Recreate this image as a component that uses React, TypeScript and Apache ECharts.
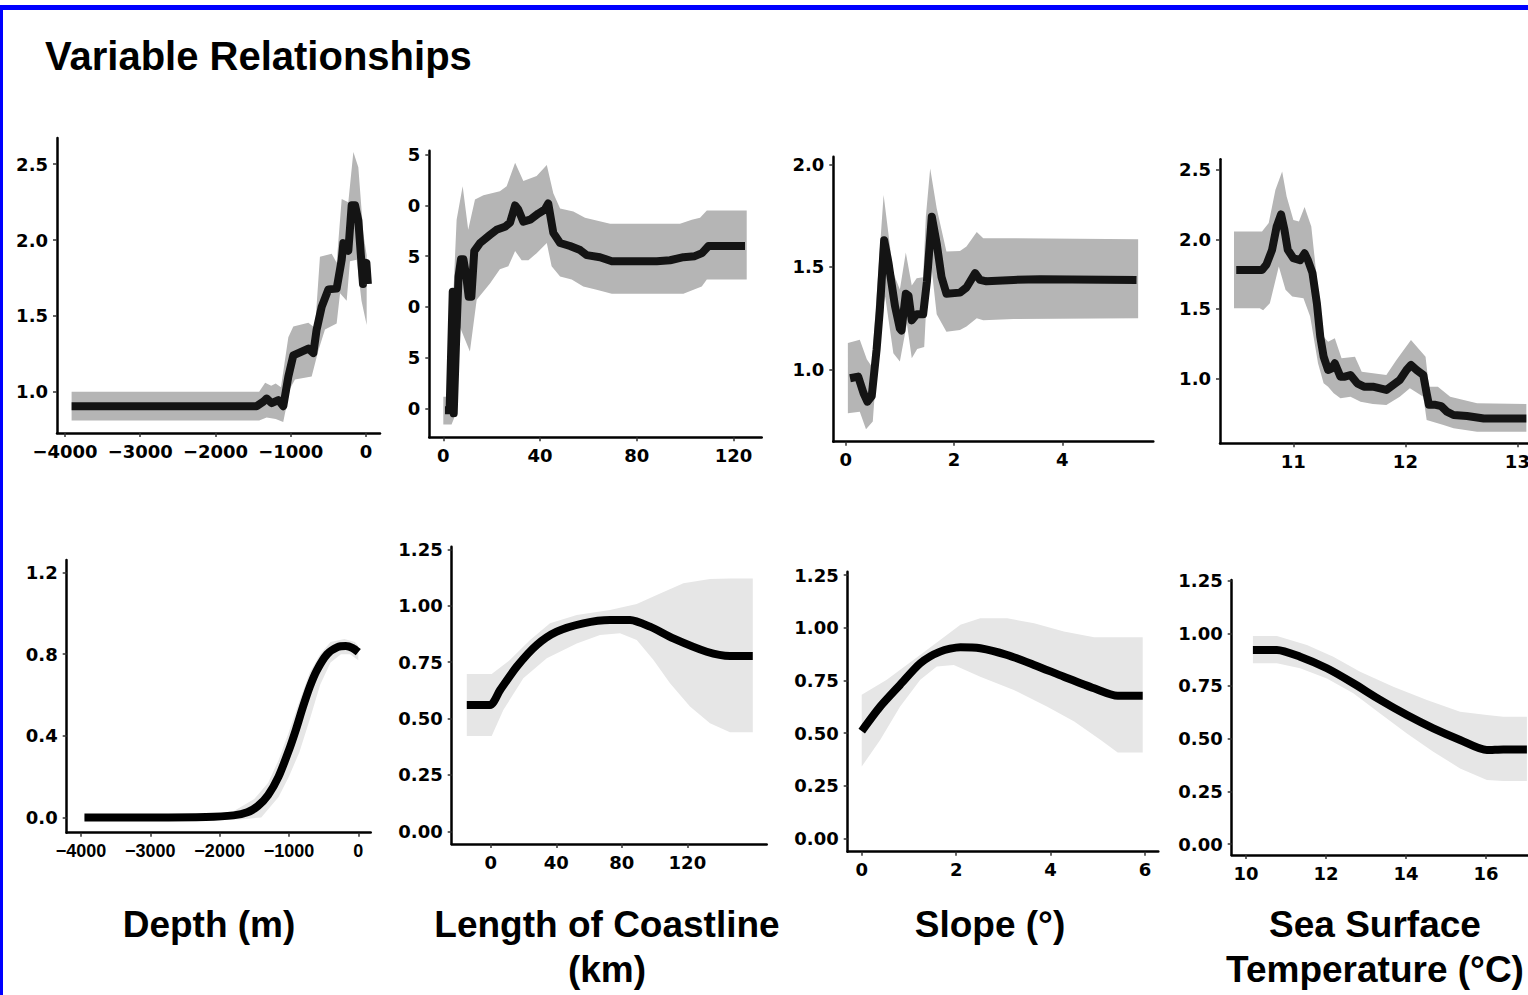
import React, { useEffect, useRef } from "react";
import * as echarts from "echarts";

type P = [number, number];

// ---------- Panel 1: Depth (top row) ----------
const depthTopLine: P[] = [[-3912,0.905],[-1453,0.905],[-1364,0.935],[-1320,0.955],[-1254,0.925],[-1165,0.945],[-1099,0.905],[-1032,1.10],[-966,1.24],[-877,1.26],[-766,1.285],[-700,1.255],[-656,1.41],[-589,1.56],[-500,1.675],[-390,1.68],[-323,1.87],[-301,1.98],[-235,1.93],[-190,2.23],[-146,2.23],[-102,2.13],[-40,1.71],[5,1.85],[25,1.71]];
const depthTopUpper: P[] = [[-3912,1.0],[-1420,1.0],[-1340,1.06],[-1260,1.04],[-1200,1.055],[-1130,1.03],[-1032,1.36],[-966,1.43],[-766,1.455],[-677,1.42],[-612,1.89],[-456,1.91],[-390,1.85],[-323,2.27],[-235,2.25],[-168,2.58],[-102,2.48],[-35,2.04],[9,1.9]];
const depthTopLower: P[] = [[-3912,0.81],[-1420,0.81],[-1320,0.83],[-1200,0.82],[-1100,0.80],[-1010,1.02],[-944,1.08],[-722,1.10],[-634,1.27],[-545,1.41],[-390,1.45],[-345,1.65],[-257,1.60],[-213,1.86],[-124,1.87],[-60,1.6],[9,1.44]];
const depthTopXTicks = [-4000, -3000, -2000, -1000, 0];
const depthTopYTicks = [1.0, 1.5, 2.0, 2.5];

// ---------- Panel 2: Length of Coastline (top row) ----------
const coastTopLine: P[] = [[0.7,-0.02],[2.6,-0.02],[3.9,1.15],[4.3,-0.05],[5.2,0.6],[6.3,1.3],[7.3,1.47],[8.3,1.47],[9.5,1.3],[10.5,1.1],[11.6,1.1],[12.8,1.55],[15.2,1.63],[19.3,1.71],[22,1.76],[25.5,1.79],[27.6,1.83],[29.7,2.0],[31,1.96],[33.1,1.84],[35.9,1.86],[39.3,1.92],[42,1.96],[43.4,2.02],[45.5,1.73],[48.3,1.63],[52.4,1.6],[56.6,1.56],[59.3,1.51],[64.8,1.49],[69.7,1.45],[74.5,1.45],[88.3,1.45],[93.8,1.46],[99.3,1.49],[104,1.5],[107,1.53],[109.7,1.6],[124.8,1.6]];
const coastTopUpper: P[] = [[0,0.115],[3.4,0.115],[4.1,1.1],[5.5,1.86],[8,2.19],[10.3,1.76],[13.1,2.06],[16.6,2.1],[23.4,2.14],[26.2,2.19],[29.7,2.42],[33.1,2.24],[38.6,2.29],[42.8,2.4],[45.5,2.12],[48.3,1.97],[53.8,1.94],[58.6,1.88],[69,1.82],[97.9,1.82],[102.8,1.86],[106.2,1.88],[109,1.95],[125.5,1.95]];
const coastTopLower: P[] = [[0,-0.16],[3.4,-0.16],[4.4,-0.1],[5.2,0.38],[6.9,0.8],[11,0.56],[13.8,1.07],[19.3,1.23],[23.4,1.37],[26.9,1.4],[29.7,1.55],[32.4,1.46],[35.2,1.46],[38.6,1.53],[42.8,1.63],[44.8,1.4],[48.3,1.3],[53.1,1.27],[57.9,1.2],[63.4,1.17],[69.7,1.13],[99.3,1.13],[106.9,1.2],[109,1.27],[125.5,1.27]];
const coastTopXTicks = [0, 40, 80, 120];
const coastTopYTicks = [0, 0.5, 1.0, 1.5, 2.0, 2.5];
const coastTopYLabels = ["0", "5", "0", "5", "0", "5"];

// ---------- Panel 3: Slope (top row) ----------
const slopeTopLine: P[] = [[0.08,0.958],[0.23,0.966],[0.33,0.885],[0.4,0.844],[0.48,0.87],[0.57,1.096],[0.63,1.29],[0.71,1.63],[0.79,1.52],[0.91,1.31],[1.0,1.2],[1.03,1.19],[1.11,1.37],[1.16,1.36],[1.22,1.24],[1.31,1.27],[1.43,1.27],[1.5,1.43],[1.59,1.745],[1.68,1.615],[1.77,1.45],[1.86,1.37],[2.11,1.375],[2.23,1.40],[2.39,1.47],[2.48,1.437],[2.6,1.43],[3.1,1.437],[3.59,1.44],[5.37,1.437]];
const slopeTopUpper: P[] = [[0.04,1.13],[0.26,1.145],[0.39,1.05],[0.48,1.015],[0.70,1.85],[0.88,1.47],[1.0,1.39],[1.11,1.57],[1.22,1.41],[1.31,1.445],[1.43,1.45],[1.48,1.745],[1.56,1.98],[1.68,1.786],[1.86,1.575],[2.11,1.578],[2.23,1.6],[2.42,1.67],[2.54,1.64],[3.1,1.64],[5.4,1.635]];
const slopeTopLower: P[] = [[0.04,0.787],[0.26,0.795],[0.375,0.71],[0.5,0.747],[0.63,1.226],[0.73,1.355],[0.88,1.08],[1.0,1.04],[1.13,1.225],[1.22,1.055],[1.32,1.10],[1.45,1.11],[1.53,1.53],[1.59,1.485],[1.68,1.27],[1.86,1.185],[2.11,1.193],[2.23,1.21],[2.42,1.25],[2.54,1.24],[3.1,1.247],[5.4,1.25]];
const slopeTopXTicks = [0, 2, 4];
const slopeTopYTicks = [1.0, 1.5, 2.0];

// ---------- Panel 4: Sea Surface Temperature (top row) ----------
const sstTopLine: P[] = [[10.49,1.78],[10.72,1.78],[10.76,1.82],[10.81,1.925],[10.85,2.09],[10.89,2.18],[10.92,2.07],[10.95,1.925],[11.0,1.865],[11.06,1.85],[11.1,1.9],[11.13,1.85],[11.17,1.76],[11.21,1.54],[11.24,1.30],[11.27,1.156],[11.31,1.06],[11.34,1.07],[11.37,1.108],[11.42,1.012],[11.46,1.012],[11.51,1.024],[11.57,0.964],[11.63,0.94],[11.71,0.94],[11.83,0.916],[11.89,0.952],[11.95,0.988],[12.01,1.06],[12.05,1.096],[12.1,1.06],[12.16,1.024],[12.19,0.89],[12.21,0.81],[12.26,0.81],[12.32,0.80],[12.37,0.76],[12.43,0.736],[12.55,0.728],[12.7,0.71],[13.08,0.71]];
const sstTopUpper: P[] = [[10.47,2.058],[10.72,2.058],[10.78,2.118],[10.84,2.358],[10.9,2.49],[10.94,2.31],[11.0,2.14],[11.05,2.13],[11.1,2.233],[11.16,2.094],[11.22,1.637],[11.27,1.30],[11.31,1.264],[11.37,1.288],[11.43,1.144],[11.55,1.156],[11.61,1.048],[11.83,1.024],[11.92,1.132],[12.05,1.276],[12.18,1.156],[12.21,0.94],[12.29,0.94],[12.4,0.868],[12.64,0.82],[13.08,0.815]];
const sstTopLower: P[] = [[10.47,1.505],[10.70,1.505],[10.73,1.49],[10.79,1.54],[10.87,1.805],[10.93,1.637],[10.99,1.589],[11.09,1.577],[11.15,1.445],[11.22,1.108],[11.27,0.964],[11.31,0.94],[11.36,0.892],[11.42,0.856],[11.51,0.868],[11.6,0.832],[11.71,0.815],[11.83,0.808],[11.95,0.868],[12.04,0.928],[12.16,0.868],[12.19,0.7],[12.34,0.663],[12.43,0.64],[12.64,0.615],[13.08,0.615]];
const sstTopXTicks = [11, 12, 13];
const sstTopYTicks = [1.0, 1.5, 2.0, 2.5];

// ---------- Panel 5: Depth (bottom row) ----------
const depthBotLine: P[] = [[-3950,0],[-3000,0],[-2200,0.002],[-1800,0.01],[-1600,0.025],[-1450,0.055],[-1300,0.11],[-1150,0.2],[-1000,0.33],[-900,0.43],[-800,0.54],[-700,0.64],[-600,0.72],[-450,0.8],[-300,0.835],[-180,0.84],[-80,0.83],[0,0.81]];
const depthBotUpper: P[] = [[-3950,0.01],[-2200,0.01],[-1800,0.03],[-1500,0.09],[-1300,0.17],[-1150,0.28],[-1000,0.42],[-850,0.57],[-700,0.71],[-550,0.8],[-400,0.86],[-200,0.875],[-50,0.86],[0,0.84]];
const depthBotLower: P[] = [[-3950,-0.01],[-2200,-0.01],[-1700,-0.01],[-1400,0.0],[-1150,0.1],[-1000,0.2],[-850,0.32],[-700,0.48],[-550,0.65],[-400,0.76],[-250,0.8],[-120,0.8],[0,0.77]];
const depthBotXTicks = [-4000, -3000, -2000, -1000, 0];
const depthBotYTicks = [0.0, 0.4, 0.8, 1.2];

// ---------- Panel 6: Length of Coastline (bottom row) ----------
const coastBotLine: P[] = [[-14.6,0.56],[-0.4,0.56],[5.7,0.626],[15.9,0.73],[28.1,0.826],[40.3,0.885],[56.5,0.922],[72.8,0.937],[85,0.937],[97.2,0.907],[111.4,0.855],[131.8,0.796],[146,0.777],[159.9,0.777]];
const coastBotUpper: P[] = [[-14.6,0.697],[0.6,0.697],[11.8,0.76],[24,0.848],[36.2,0.922],[52.5,0.959],[72.8,0.981],[89.1,1.008],[101.3,1.048],[117.6,1.099],[133.8,1.118],[146,1.121],[159.9,1.121]];
const coastBotLower: P[] = [[-14.6,0.423],[0.6,0.423],[7.7,0.538],[19.9,0.678],[34.2,0.767],[52.5,0.833],[66.7,0.87],[78.9,0.878],[89.1,0.848],[99.2,0.76],[109.4,0.656],[121.6,0.553],[133.8,0.479],[146,0.439],[159.9,0.439]];
const coastBotXTicks = [0, 40, 80, 120];
const coastBotYTicks = [0, 0.25, 0.5, 0.75, 1.0, 1.25];

// ---------- Panel 7: Slope (bottom row) ----------
const slopeBotLine: P[] = [[0,0.51],[0.39,0.626],[0.81,0.729],[1.24,0.832],[1.66,0.887],[2.09,0.908],[2.51,0.903],[3.08,0.871],[3.65,0.824],[4.28,0.768],[4.92,0.713],[5.42,0.678],[5.95,0.678]];
const slopeBotUpper: P[] = [[0,0.682],[0.53,0.753],[1.1,0.848],[1.66,0.942],[2.09,1.014],[2.51,1.045],[3.08,1.045],[3.65,1.021],[4.28,0.982],[4.92,0.955],[5.95,0.955]];
const slopeBotLower: P[] = [[0,0.342],[0.39,0.468],[0.81,0.626],[1.24,0.753],[1.59,0.816],[1.95,0.824],[2.51,0.768],[3.22,0.705],[3.93,0.626],[4.5,0.555],[5.06,0.468],[5.42,0.408],[5.95,0.408]];
const slopeBotXTicks = [0, 2, 4, 6];
const slopeBotYTicks = [0, 0.25, 0.5, 0.75, 1.0, 1.25];

// ---------- Panel 8: Sea Surface Temperature (bottom row) ----------
const sstBotLine: P[] = [[10.17,0.921],[10.77,0.921],[11.35,0.889],[12.02,0.834],[12.68,0.763],[13.35,0.684],[14.02,0.612],[14.68,0.549],[15.35,0.494],[16.02,0.446],[16.43,0.449],[17.02,0.449]];
const sstBotUpper: P[] = [[10.17,0.987],[10.77,0.987],[11.52,0.945],[12.18,0.889],[12.85,0.818],[13.68,0.747],[14.52,0.684],[15.35,0.628],[16.02,0.612],[16.43,0.604],[17.02,0.604]];
const sstBotLower: P[] = [[10.17,0.858],[10.77,0.858],[11.35,0.834],[12.02,0.786],[12.68,0.715],[13.35,0.62],[14.02,0.525],[14.68,0.438],[15.35,0.359],[16.02,0.304],[16.43,0.299],[17.02,0.299]];
const sstBotXTicks = [10, 12, 14, 16];
const sstBotYTicks = [0, 0.25, 0.5, 0.75, 1.0, 1.25];

const titleText = "Variable Relationships";
const variableNames = ["Depth (m)", "Length of Coastline\n(km)", "Slope (°)", "Sea Surface\nTemperature (°C)"];

const minus = (v: number) => (v < 0 ? "\u2212" + Math.abs(v) : String(v));
const f1 = (v: number) => v.toFixed(1);
const f2 = (v: number) => v.toFixed(2);

const TOP_BAND = "#b5b5b5";
const BOT_BAND = "#e6e6e6";

const panels: any[] = [
  { grid: { left: 57, top: 138, width: 323, height: 295 }, x: [-4106, 186], y: [0.728, 2.673], xt: depthTopXTicks, yt: depthTopYTicks, xf: minus, yf: f1, line: depthTopLine, up: depthTopUpper, lo: depthTopLower, band: TOP_BAND, lc: "#141414", smooth: false },
  { grid: { left: 429.3, top: 150.7, width: 332.4, height: 286.6 }, x: [-5.8, 131.7], y: [-0.286, 2.54], xt: coastTopXTicks, yt: coastTopYTicks, xf: String, yf: (v: number) => coastTopYLabels[coastTopYTicks.findIndex((t) => Math.abs(t - v) < 1e-6)] ?? "", line: coastTopLine, up: coastTopUpper, lo: coastTopLower, band: TOP_BAND, lc: "#141414", smooth: false },
  { grid: { left: 833.3, top: 156.7, width: 320, height: 285 }, x: [-0.229, 5.68], y: [0.649, 2.037], xt: slopeTopXTicks, yt: slopeTopYTicks, xf: String, yf: f1, line: slopeTopLine, up: slopeTopUpper, lo: slopeTopLower, band: TOP_BAND, lc: "#141414", smooth: false },
  { grid: { left: 1220, top: 159.3, width: 331, height: 284 }, x: [10.345, 13.3], y: [0.532, 2.577], xt: sstTopXTicks, yt: sstTopYTicks, xf: String, yf: f1, line: sstTopLine, up: sstTopUpper, lo: sstTopLower, band: TOP_BAND, lc: "#141414", smooth: false },
  { grid: { left: 66.7, top: 560, width: 304, height: 272.7 }, x: [-4206, 179], y: [-0.075, 1.262], xt: depthBotXTicks, yt: depthBotYTicks, xf: minus, yf: f1, line: depthBotLine, up: depthBotUpper, lo: depthBotLower, band: BOT_BAND, lc: "#000000", narrowX: true, smooth: 0.25 },
  { grid: { left: 451.7, top: 546.7, width: 315, height: 297.3 }, x: [-23.8, 168.4], y: [-0.056, 1.2615], xt: coastBotXTicks, yt: coastBotYTicks, xf: String, yf: f2, line: coastBotLine, up: coastBotUpper, lo: coastBotLower, band: BOT_BAND, lc: "#000000", smooth: 0.25 },
  { grid: { left: 847.7, top: 571.7, width: 310.6, height: 280 }, x: [-0.297, 6.28], y: [-0.062, 1.266], xt: slopeBotXTicks, yt: slopeBotYTicks, xf: String, yf: f2, line: slopeBotLine, up: slopeBotUpper, lo: slopeBotLower, band: BOT_BAND, lc: "#000000", smooth: 0.25 },
  { grid: { left: 1231.7, top: 580, width: 314, height: 275 }, x: [9.64, 17.49], y: [-0.052, 1.253], xt: sstBotXTicks, yt: sstBotYTicks, xf: String, yf: f2, line: sstBotLine, up: sstBotUpper, lo: sstBotLower, band: BOT_BAND, lc: "#000000", smooth: 0.25 },
];

const labelFont = { fontFamily: "DejaVu Sans", fontWeight: "bold" as const, fontSize: 18, color: "#000" };

export default function App() {
  const ref = useRef<HTMLDivElement>(null);
  useEffect(() => {
    if (!ref.current) return;
    const chart = echarts.init(ref.current, undefined, { renderer: "svg" });
    const grids = panels.map((p) => ({ ...p.grid, containLabel: false, outerBoundsMode: "none" }));
    const axisLine = { show: true, onZero: false, lineStyle: { color: "#000", width: 2.5 } };
    const axisTickBase = { show: true, length: 4, lineStyle: { color: "#333", width: 1.5 } };
    const xAxes = panels.map((p, i) => ({
      type: "value", gridIndex: i, min: p.x[0], max: p.x[1],
      axisLine, splitLine: { show: false },
      axisTick: { ...axisTickBase, customValues: p.xt },
      axisLabel: {
        ...labelFont,
        ...(p.narrowX ? { fontFamily: "Liberation Sans", fontSize: 18 } : {}),
        margin: 9, customValues: p.xt, formatter: (v: number) => p.xf(v),
      },
    }));
    const yAxes = panels.map((p, i) => ({
      type: "value", gridIndex: i, min: p.y[0], max: p.y[1],
      axisLine, splitLine: { show: false },
      axisTick: { ...axisTickBase, customValues: p.yt },
      axisLabel: { ...labelFont, margin: 9, customValues: p.yt, formatter: (v: number) => p.yf(v) },
    }));
    const series: any[] = [];
    panels.forEach((p, i) => {
      series.push({
        type: "custom", xAxisIndex: i, yAxisIndex: i, silent: true, z: 2,
        data: [p.up[0]],
        renderItem: (_params: any, api: any) => ({
          type: "polygon",
          shape: { points: [...p.up.map((d: P) => api.coord(d)), ...p.lo.slice().reverse().map((d: P) => api.coord(d))] },
          style: { fill: p.band, stroke: null },
        }),
      });
      series.push({
        type: "line", xAxisIndex: i, yAxisIndex: i, z: 3, silent: true,
        data: p.line, showSymbol: false, symbol: "none",
        smooth: p.smooth,
        lineStyle: { color: p.lc, width: 8, join: "round", cap: "butt" },
      });
    });
    const centers = [209, 607, 990, 1375];
    const graphic: any[] = [
      { type: "rect", shape: { x: 0, y: 5, width: 1528, height: 5 }, style: { fill: "#0000ff" }, z: 10 },
      { type: "rect", shape: { x: 0, y: 5, width: 3, height: 990 }, style: { fill: "#0000ff" }, z: 10 },
      { type: "text", x: 45, y: 56, style: { text: titleText, fontFamily: "Liberation Sans", fontWeight: "bold", fontSize: 40, fill: "#000", verticalAlign: "middle", align: "left" } },
      ...variableNames.map((t, k) => ({
        type: "text", x: centers[k], y: 902,
        style: { text: t, fontFamily: "Liberation Sans", fontWeight: "bold", fontSize: 37, lineHeight: 45, fill: "#000", align: "center", verticalAlign: "top" },
      })),
    ];
    chart.setOption({
      animation: false,
      backgroundColor: "#fff",
      grid: grids,
      xAxis: xAxes,
      yAxis: yAxes,
      series,
      graphic,
    });
    return () => chart.dispose();
  }, []);
  return <div ref={ref} style={{ position: "fixed", left: 0, top: 0, width: 1528, height: 995 }} />;
}
